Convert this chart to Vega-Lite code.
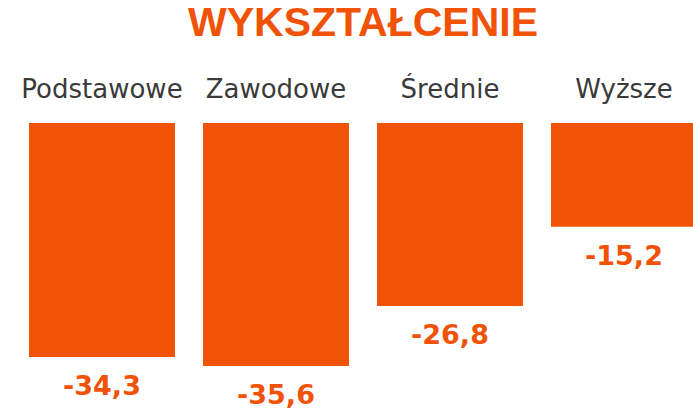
{
  "$schema": "https://vega.github.io/schema/vega-lite/v6.json",
  "width": 726,
  "height": 288,
  "autosize": {"type": "none"},
  "padding": {"top": 123, "left": 0, "right": 0, "bottom": 0},
  "background": "white",
  "title": {
    "text": "WYKSZTAŁCENIE",
    "font": "Liberation Sans",
    "fontSize": 41,
    "fontWeight": "bold",
    "color": "#F05206",
    "anchor": "middle",
    "frame": "group",
    "offset": 31
  },
  "data": {
    "values": [
      {"kategoria": "Podstawowe", "wartosc": -34.3, "etykieta": "-34,3"},
      {"kategoria": "Zawodowe", "wartosc": -35.6, "etykieta": "-35,6"},
      {"kategoria": "Średnie", "wartosc": -26.8, "etykieta": "-26,8"},
      {"kategoria": "Wyższe", "wartosc": -15.2, "etykieta": "-15,2"}
    ]
  },
  "encoding": {
    "x": {
      "field": "kategoria",
      "type": "nominal",
      "sort": null,
      "scale": {"paddingInner": 0.161, "paddingOuter": 0.1667},
      "axis": {
        "orient": "top",
        "title": null,
        "domain": false,
        "ticks": false,
        "tickSize": 0,
        "labelPadding": 26,
        "labelBaseline": "alphabetic",
        "labelFont": "DejaVu Sans",
        "labelFontSize": 26,
        "labelColor": "#3a3a3a",
        "labelAngle": 0,
        "grid": false
      }
    },
    "y": {
      "field": "wartosc",
      "type": "quantitative",
      "scale": {"domain": [-42.2, 0], "nice": false},
      "axis": null
    }
  },
  "layer": [
    {"mark": {"type": "bar", "color": "#F05206", "clip": false}},
    {
      "mark": {
        "type": "text",
        "font": "DejaVu Sans",
        "fontSize": 27,
        "fontWeight": "bold",
        "color": "#F05206",
        "baseline": "alphabetic",
        "align": "center",
        "dy": 38
      },
      "encoding": {"text": {"field": "etykieta"}}
    }
  ],
  "config": {"view": {"stroke": null}}
}
